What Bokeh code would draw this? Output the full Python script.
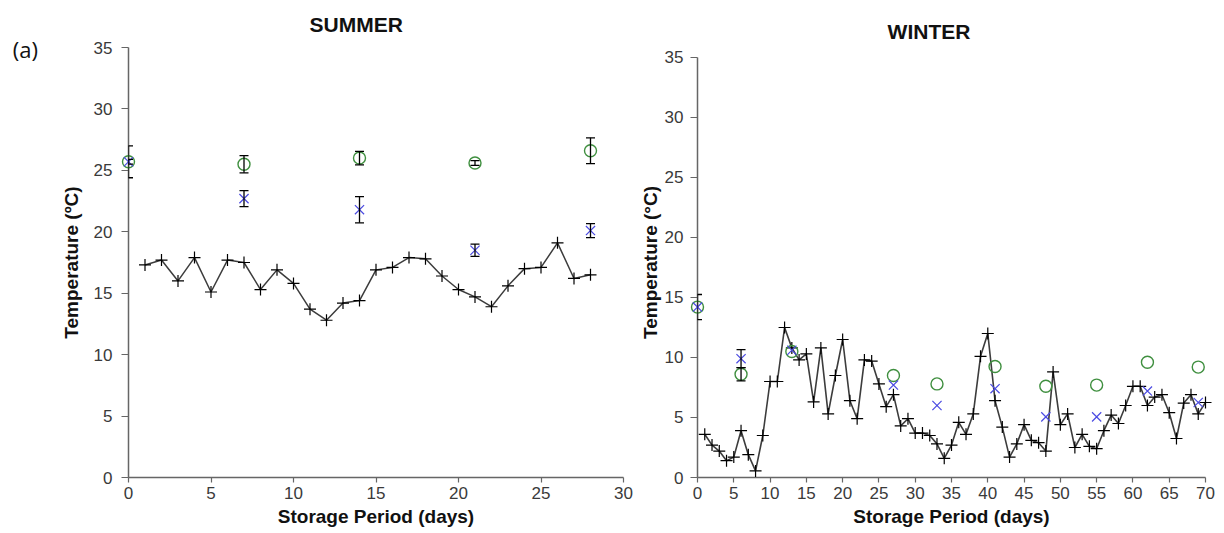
from bokeh.plotting import figure
from bokeh.models import Range1d, FixedTicker, Whisker, TeeHead, ColumnDataSource
from bokeh.core.properties import value
from bokeh.layouts import row
from bokeh.embed import file_html
from bokeh.resources import INLINE

# ---------------- data ----------------
summer_days = list(range(1, 29))
summer_temp = [17.3, 17.7, 16.0, 17.9, 15.1, 17.7, 17.5, 15.3, 16.9, 15.8,
               13.7, 12.8, 14.2, 14.4, 16.9, 17.1, 17.9, 17.8, 16.4, 15.3,
               14.7, 13.9, 15.6, 17.0, 17.1, 19.1, 16.2, 16.5]
summer_sample_days = [0, 7, 14, 21, 28]
summer_green = [25.7, 25.5, 26.0, 25.6, 26.6]
summer_green_err = [1.3, 0.7, 0.55, 0.2, 1.05]
summer_blue = [25.7, 22.7, 21.8, 18.5, 20.1]
summer_blue_err = [0.2, 0.65, 1.07, 0.5, 0.57]

winter_days = list(range(1, 71))
winter_temp = [3.6, 2.7, 2.2, 1.4, 1.7, 3.9, 1.9, 0.55, 3.5, 8.0,
               8.0, 12.5, 10.8, 9.8, 10.3, 6.3, 10.8, 5.3, 8.5, 11.5,
               6.4, 4.9, 9.8, 9.7, 7.8, 5.9, 6.9, 4.3, 4.9, 3.7,
               3.7, 3.5, 2.8, 1.6, 2.7, 4.6, 3.6, 5.3, 10.1, 12.0,
               6.4, 4.2, 1.7, 2.8, 4.4, 3.1, 2.9, 2.2, 8.8, 4.4,
               5.3, 2.5, 3.6, 2.6, 2.4, 3.9, 5.2, 4.5, 6.0, 7.6,
               7.6, 6.0, 6.7, 6.9, 5.4, 3.25, 6.2, 6.9, 5.3, 6.25]
winter_sample_days = [0, 6, 13, 27, 33, 41, 48, 55, 62, 69]
winter_green = [14.2, 8.6, 10.5, 8.5, 7.8, 9.25, 7.6, 7.7, 9.6, 9.2]
winter_green_err = [1.05, 0.55, 0, 0, 0, 0, 0, 0, 0, 0]
winter_blue = [14.2, 9.9, 10.6, 7.7, 6.0, 7.4, 5.05, 5.05, 7.2, 6.25]
winter_blue_err = [0, 0.75, 0, 0, 0, 0, 0, 0, 0, 0]

y_ticks = [0, 5, 10, 15, 20, 25, 30, 35]
summer_x_ticks = [0, 5, 10, 15, 20, 25, 30]
winter_x_ticks = list(range(0, 75, 5))

GREEN = "#3f8f3f"
BLUE = "#4a4ae2"
FONT = "Liberation Sans"


def make_panel(width, xmax, ymax, xticks, days, temp, sdays, green, gerr, blue, berr,
               bl, br, ylabel, ystand, tstand, line_w):
    p = figure(width=width, height=533, output_backend="svg", toolbar_location=None,
               x_range=Range1d(0, xmax), y_range=Range1d(0, ymax),
               min_border_left=bl, min_border_right=br,
               min_border_top=47, min_border_bottom=56)
    p.outline_line_color = None
    p.grid.visible = False
    p.background_fill_color = "white"
    p.border_fill_color = "white"

    p.xaxis.ticker = FixedTicker(ticks=xticks)
    p.yaxis.ticker = FixedTicker(ticks=y_ticks)
    p.yaxis.bounds = (0, 35)
    for ax in (p.xaxis[0], p.yaxis[0]):
        ax.axis_line_color = "#666666"
        ax.axis_line_width = 1.5
        ax.major_tick_line_color = "#666666"
        ax.major_tick_line_width = 1.2
        ax.major_tick_in = 0
        ax.minor_tick_line_color = None
        ax.major_label_text_font = FONT
        ax.major_label_text_font_size = "17px"
        ax.major_label_text_color = "#3a3a3a"
        ax.axis_label_text_font = FONT
        ax.axis_label_text_font_style = "bold"
        ax.axis_label_text_font_size = "19px"
        ax.axis_label_text_color = "#111111"
    p.xaxis[0].major_tick_out = 5
    p.xaxis[0].major_label_standoff = 4
    p.xaxis[0].axis_label = "Storage Period (days)"
    p.xaxis[0].axis_label_standoff = 4
    p.yaxis[0].major_tick_out = 7
    p.yaxis[0].major_label_standoff = tstand
    p.yaxis[0].axis_label = ylabel
    p.yaxis[0].axis_label_standoff = ystand

    r = p.line(days, temp, line_color="#3c3c3c", line_width=line_w)
    r.level = "overlay"
    r = p.scatter(days, temp, marker="cross", size=12, line_color="black", line_width=1.2)
    r.level = "overlay"

    r = p.scatter(sdays, green, marker="circle", size=12, fill_color=None,
                  line_color=GREEN, line_width=1.4)
    r.level = "overlay"
    r = p.scatter(sdays, blue, marker="x", size=13, line_color=BLUE, line_width=1.2)
    r.level = "overlay"

    wx, wlo, whi = [], [], []
    for d, v, e in zip(sdays, green, gerr):
        if e > 0:
            wx.append(d); wlo.append(v - e); whi.append(v + e)
    for d, v, e in zip(sdays, blue, berr):
        if e > 0:
            wx.append(d); wlo.append(v - e); whi.append(v + e)
    src = ColumnDataSource(dict(x=wx, lo=wlo, hi=whi))
    w = Whisker(base="x", lower="lo", upper="hi", source=src, dimension="height",
                line_color="black", line_width=1.3,
                upper_head=TeeHead(size=9, line_color="black", line_width=1.3),
                lower_head=TeeHead(size=9, line_color="black", line_width=1.3),
                level="overlay")
    p.add_layout(w)
    return p


def add_text(p, x, y, txt, size, style, font):
    r = p.text(x=[x], y=[y], text=[txt], text_font=value(font), text_font_size=size,
               text_font_style=style, text_align="center", text_baseline="middle",
               text_color="#111111")
    r.level = "overlay"


p1 = make_panel(633, 30, 35, summer_x_ticks, summer_days, summer_temp, summer_sample_days,
                summer_green, summer_green_err, summer_blue, summer_blue_err,
                128, 10, "Temperature (ºC)", 9, 9, 1.5)
# winter frame shares the row's top edge; its axis stops at 35, slightly lower
p2 = make_panel(591, 70, 35.83, winter_x_ticks, winter_days, winter_temp, winter_sample_days,
                winter_green, winter_green_err, winter_blue, winter_blue_err,
                64, 19, "Temperature (°C)", 1, 7, 1.6)

# titles and panel tag, positioned in each panel's data space (above the axes)
add_text(p1, 13.8, 36.9, "SUMMER", "21px", "bold", FONT)
add_text(p1, -6.25, 34.9, "(a)", "22px", "normal", "Open Sans")
add_text(p2, 31.9, 37.15, "WINTER", "21px", "bold", FONT)

layout = row(p1, p2)
open("out.html", "w").write(file_html(layout, INLINE))
